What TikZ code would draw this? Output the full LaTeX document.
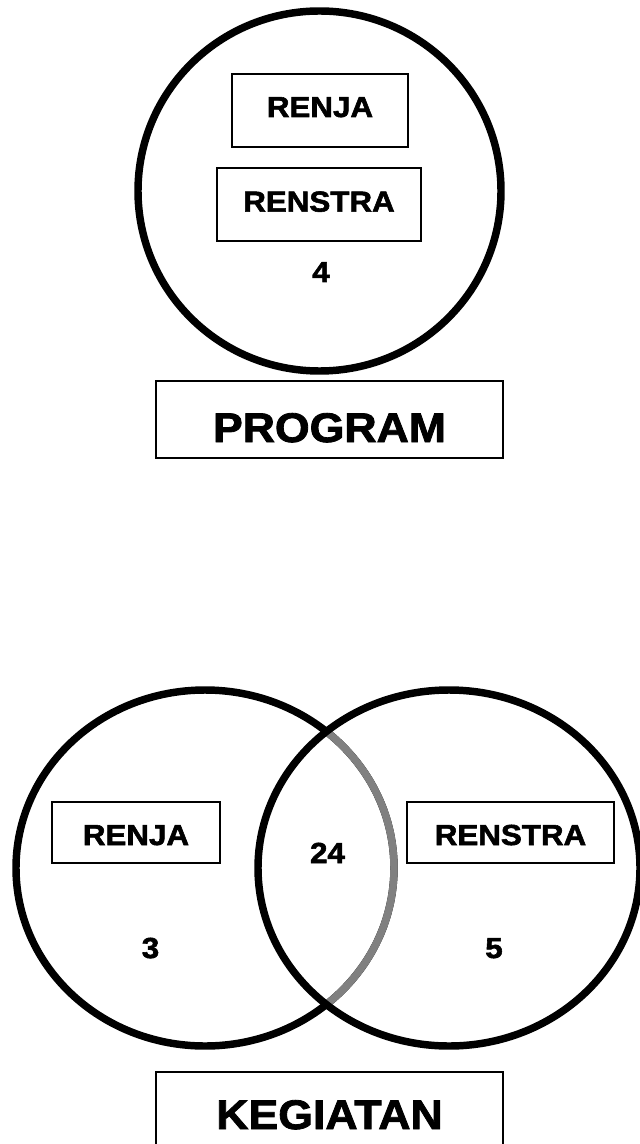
\documentclass[tikz,border=0pt]{standalone}
\usepackage{fontspec}
\newfontfamily\hv{Liberation Sans}[FakeStretch=1.08, FakeBold=2]
\definecolor{vgray}{RGB}{128,128,128}
\begin{document}
\begin{tikzpicture}[x=0.75pt,y=-0.75pt,
  ring/.style={line width=5.6pt, draw=black},
  lbl/.style={draw=black, line width=1pt, inner sep=0pt, align=center},
  small/.style={font=\hv\bfseries\fontsize{21.75}{24}\selectfont},
  big/.style={font=\hv\bfseries\fontsize{31}{34}\selectfont}]
\useasboundingbox (0,0) rectangle (639,1144);
% top circle
\draw[ring] (319.5,191) ellipse[x radius=181.5, y radius=180];
\node[lbl, small, minimum width=132pt, text height=32.25pt, text depth=22.5pt] (renjaA) at (320,110.5) {RENJA};
\node[lbl, small, minimum width=153pt, text height=32.75pt, text depth=22pt] (renstraA) at (319,204.5) {RENSTRA};
\node[small, inner sep=0pt, anchor=base] (numA) at (321,282) {4};
\node[lbl, big, minimum width=260.25pt, text height=45.75pt, text depth=12pt] (program) at (329.5,419.5) {PROGRAM};
% venn
\draw[ring] (205,868) ellipse[x radius=189, y radius=178];
\begin{scope}
  \clip (449,868) ellipse[x radius=191, y radius=178];
  \draw[ring, draw=vgray] (205,868) ellipse[x radius=189, y radius=178];
\end{scope}
\draw[ring] (449,868) ellipse[x radius=191, y radius=178];
\node[lbl, small, minimum width=126pt, text height=32.25pt, text depth=13.5pt] (renjaB) at (136,832.5) {RENJA};
\node[lbl, small, minimum width=155.25pt, text height=32.25pt, text depth=13.5pt] (renstraB) at (510.5,832.5) {RENSTRA};
\node[small, inner sep=0pt, anchor=base] (numB) at (327.5,863) {24};
\node[small, inner sep=0pt, anchor=base] (numC) at (150.5,958) {3};
\node[small, inner sep=0pt, anchor=base] (numD) at (494,958) {5};
\node[lbl, big, minimum width=260.25pt, text height=42.75pt, text depth=15.75pt] (kegiatan) at (329.5,1111) {KEGIATAN};
\end{tikzpicture}
\end{document}
